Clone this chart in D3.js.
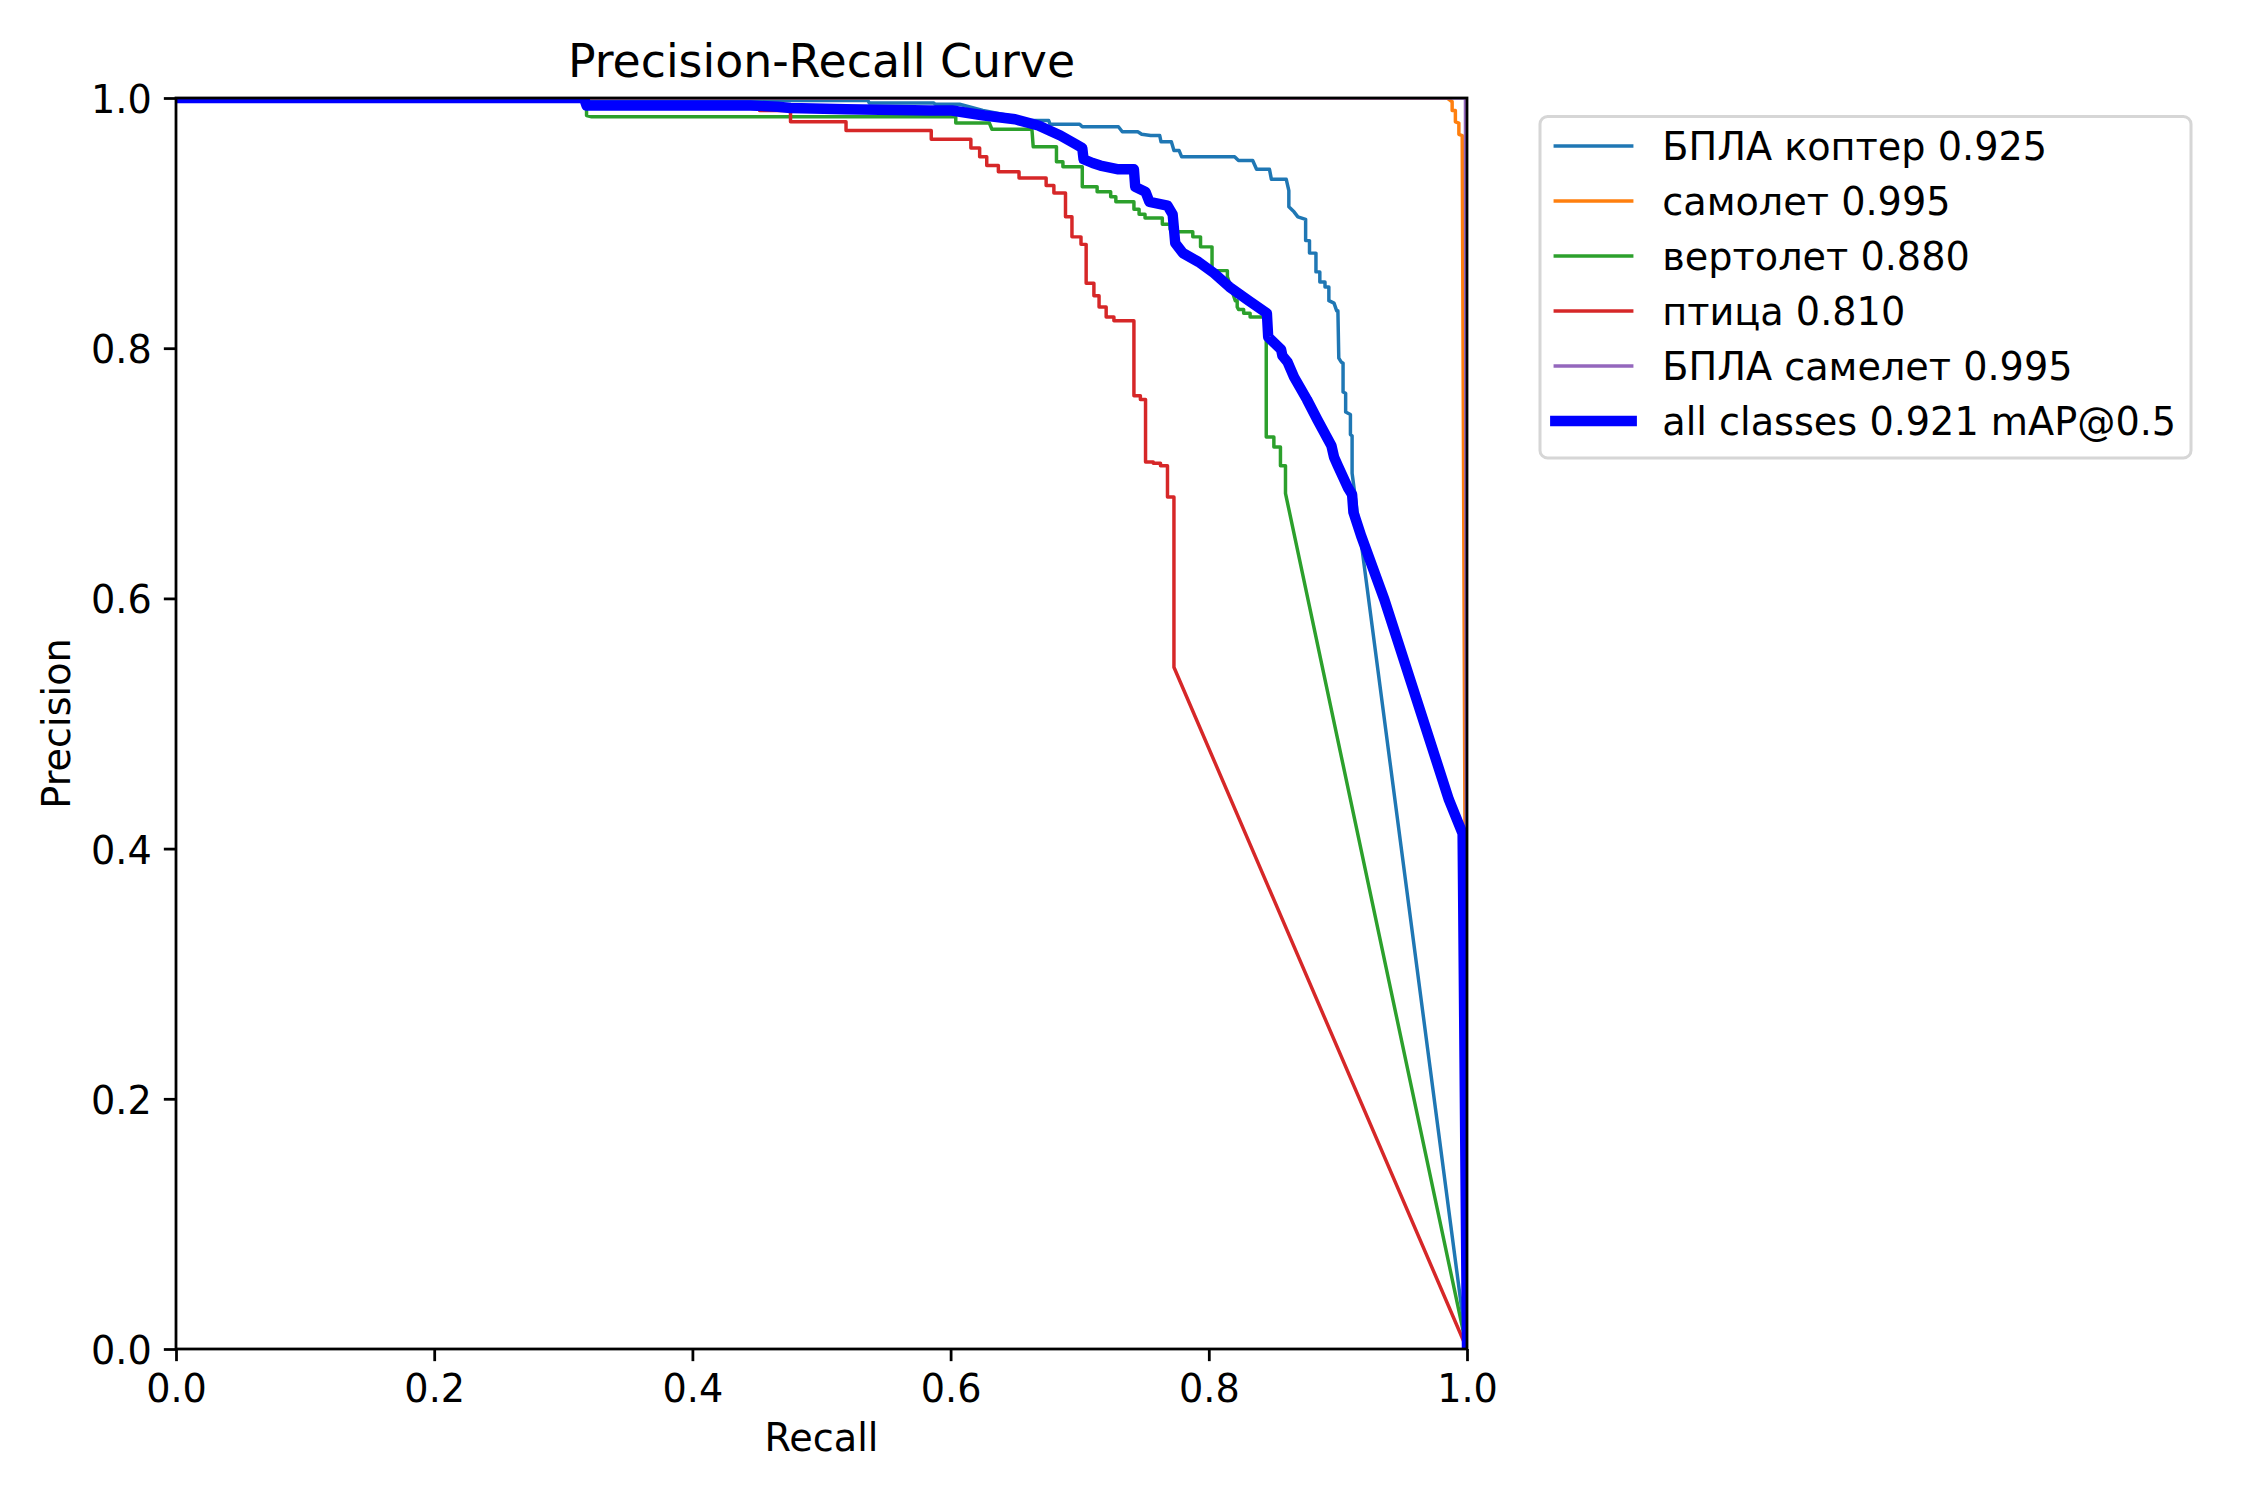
<!DOCTYPE html>
<html>
<head>
<meta charset="utf-8">
<script src="https://cdn.jsdelivr.net/npm/d3@7"></script>
<style>
  html, body { margin: 0; padding: 0; background: #ffffff; }
  svg text { font-family: "DejaVu Sans", sans-serif; fill: #000; }
</style>
</head>
<body>
<svg id="chart" width="2250" height="1500"></svg>
<script>
// ---------------- data ----------------
const categories = ["БПЛА коптер", "самолет", "вертолет", "птица", "БПЛА самелет"];
const apValues = [0.925, 0.995, 0.880, 0.810, 0.995];
const allClassesLabel = "all classes 0.921 mAP@0.5";
const xTickValues = [0, 0.2, 0.4, 0.6, 0.8, 1.0];
const yTickValues = [0, 0.2, 0.4, 0.6, 0.8, 1.0];

// [recall, precision]
const kopterPR = [[0,1],[0.318,1],[0.318,0.998],[0.536,0.998],[0.537,0.996],[0.587,0.996],[0.588,0.995],[0.607,0.995],[0.625,0.990],[0.645,0.986],[0.662,0.982],[0.676,0.982],[0.677,0.979],[0.700,0.979],[0.702,0.977],[0.730,0.977],[0.733,0.973],[0.745,0.973],[0.748,0.971],[0.755,0.970],[0.762,0.970],[0.763,0.965],[0.771,0.965],[0.773,0.958],[0.777,0.958],[0.779,0.953],[0.820,0.953],[0.823,0.950],[0.834,0.950],[0.837,0.943],[0.847,0.943],[0.8485,0.935],[0.860,0.935],[0.862,0.926],[0.862,0.913],[0.866,0.909],[0.869,0.905],[0.875,0.903],[0.875,0.886],[0.878,0.886],[0.878,0.876],[0.883,0.876],[0.883,0.861],[0.886,0.861],[0.886,0.853],[0.890,0.853],[0.890,0.849],[0.893,0.849],[0.893,0.838],[0.897,0.836],[0.899,0.830],[0.900,0.830],[0.9007,0.792],[0.9025,0.789],[0.904,0.788],[0.904,0.765],[0.906,0.764],[0.906,0.749],[0.9097,0.747],[0.9097,0.731],[0.911,0.730],[0.911,0.700],[1,0]];

const samoletPR = [[0,1],[0.9847,1],[0.9885,0.997],[0.9885,0.990],[0.991,0.990],[0.991,0.981],[0.9937,0.980],[0.9937,0.971],[0.9963,0.970],[1,0]];

const vertoletPR = [[0,1],[0.318,1],[0.318,0.986],[0.322,0.985],[0.604,0.985],[0.604,0.980],[0.630,0.980],[0.632,0.975],[0.663,0.975],[0.664,0.961],[0.682,0.961],[0.682,0.949],[0.687,0.949],[0.687,0.945],[0.702,0.945],[0.702,0.929],[0.7135,0.929],[0.7135,0.925],[0.724,0.925],[0.724,0.921],[0.728,0.921],[0.728,0.917],[0.742,0.917],[0.742,0.911],[0.746,0.911],[0.746,0.907],[0.7506,0.907],[0.7506,0.904],[0.764,0.904],[0.764,0.899],[0.770,0.899],[0.770,0.895],[0.777,0.893],[0.7876,0.893],[0.7876,0.889],[0.7936,0.889],[0.7936,0.881],[0.8025,0.881],[0.8025,0.862],[0.8144,0.862],[0.8144,0.857],[0.8205,0.838],[0.822,0.838],[0.822,0.833],[0.823,0.831],[0.827,0.831],[0.827,0.828],[0.832,0.828],[0.832,0.825],[0.8445,0.825],[0.8445,0.729],[0.8504,0.729],[0.8504,0.721],[0.8555,0.721],[0.8555,0.706],[0.8594,0.706],[0.8594,0.684],[1,0]];

const ptitsaPR = [[0,1],[0.318,1],[0.318,0.992],[0.452,0.992],[0.452,0.990],[0.476,0.990],[0.476,0.981],[0.519,0.981],[0.519,0.974],[0.585,0.974],[0.585,0.967],[0.6157,0.967],[0.6157,0.960],[0.6225,0.960],[0.6225,0.953],[0.628,0.953],[0.628,0.946],[0.637,0.946],[0.637,0.941],[0.653,0.941],[0.653,0.936],[0.674,0.936],[0.674,0.930],[0.680,0.930],[0.680,0.924],[0.689,0.924],[0.689,0.905],[0.694,0.905],[0.694,0.889],[0.701,0.889],[0.701,0.883],[0.705,0.883],[0.705,0.852],[0.711,0.852],[0.711,0.842],[0.715,0.842],[0.715,0.833],[0.7205,0.833],[0.7205,0.825],[0.7265,0.825],[0.7265,0.822],[0.742,0.822],[0.742,0.762],[0.747,0.762],[0.747,0.759],[0.751,0.759],[0.751,0.709],[0.757,0.709],[0.757,0.708],[0.7626,0.708],[0.7626,0.706],[0.768,0.706],[0.768,0.681],[0.773,0.681],[0.773,0.545],[1,0]];

const samueletPR = [[0,1],[0.9988,1],[1,0]];

const allClassesPR = [[0,1],[0.316,1],[0.318,0.994],[0.445,0.994],[0.466,0.993],[0.476,0.992],[0.519,0.991],[0.584,0.990],[0.601,0.990],[0.626,0.986],[0.650,0.983],[0.668,0.978],[0.685,0.970],[0.697,0.963],[0.702,0.960],[0.703,0.951],[0.710,0.948],[0.716,0.946],[0.730,0.943],[0.742,0.943],[0.743,0.929],[0.751,0.925],[0.754,0.917],[0.768,0.914],[0.772,0.907],[0.774,0.884],[0.780,0.876],[0.792,0.869],[0.804,0.860],[0.816,0.849],[0.831,0.838],[0.845,0.828],[0.846,0.809],[0.852,0.803],[0.856,0.799],[0.857,0.794],[0.861,0.789],[0.866,0.777],[0.876,0.759],[0.884,0.743],[0.895,0.722],[0.897,0.713],[0.900,0.706],[0.908,0.688],[0.911,0.683],[0.912,0.669],[0.918,0.650],[0.936,0.599],[0.986,0.439],[0.9966,0.412],[1,0]];

const classSeries = [kopterPR, samoletPR, vertoletPR, ptitsaPR, samueletPR];

// ---------------- style ----------------
const classColors = ["#1f77b4", "#ff7f0e", "#2ca02c", "#d62728", "#9467bd"];
const allColor = "#0000ff";
const fontPx = 38.2, titlePx = 45.8;
const thinW = 3.47, thickW = 10.42, spineW = 2.78, tickLen = 12.15, tickPad = 12.15;

const L = 176, R = 1467, T = 98, B = 1349;

const svg = d3.select("#chart");
svg.append("rect").attr("width", 2250).attr("height", 1500).attr("fill", "#fff");

const x = d3.scaleLinear().domain([0, 1]).range([L, R]);
const y = d3.scaleLinear().domain([0, 1]).range([B, T]);

svg.append("defs").append("clipPath").attr("id", "axclip")
  .append("rect").attr("x", L).attr("y", T).attr("width", R - L).attr("height", B - T);

const line = d3.line().x(d => x(d[0])).y(d => y(d[1]));

const plot = svg.append("g").attr("clip-path", "url(#axclip)");
classSeries.forEach((s, i) => {
  plot.append("path").datum(s).attr("d", line)
    .attr("fill", "none").attr("stroke", classColors[i]).attr("stroke-width", thinW)
    .attr("stroke-linejoin", "round").attr("stroke-linecap", "square");
});
plot.append("path").datum(allClassesPR).attr("d", line)
  .attr("fill", "none").attr("stroke", allColor).attr("stroke-width", thickW)
  .attr("stroke-linejoin", "round").attr("stroke-linecap", "square");

// axes
const xAxis = d3.axisBottom(x).tickValues(xTickValues).tickFormat(d3.format(".1f"))
  .tickSizeInner(tickLen).tickSizeOuter(0).tickPadding(tickPad);
const yAxis = d3.axisLeft(y).tickValues(yTickValues).tickFormat(d3.format(".1f"))
  .tickSizeInner(tickLen).tickSizeOuter(0).tickPadding(tickPad);

const gx = svg.append("g").attr("transform", `translate(0,${B})`).call(xAxis);
const gy = svg.append("g").attr("transform", `translate(${L},0)`).call(yAxis);
[gx, gy].forEach(g => {
  g.select(".domain").remove();
  g.selectAll(".tick line").attr("stroke", "#000").attr("stroke-width", spineW);
  g.selectAll(".tick text").attr("font-size", fontPx).attr("font-family", "DejaVu Sans").attr("fill", "#000");
});
gx.selectAll(".tick text").attr("dy", "0.76em");
gy.selectAll(".tick text").attr("dy", "0.38em");

// spines
svg.append("rect").attr("x", L).attr("y", T).attr("width", R - L).attr("height", B - T)
  .attr("fill", "none").attr("stroke", "#000").attr("stroke-width", spineW);

// labels
svg.append("text").attr("x", (L + R) / 2).attr("y", 77).attr("text-anchor", "middle")
  .attr("font-size", titlePx).text("Precision-Recall Curve");
svg.append("text").attr("x", (L + R) / 2).attr("y", 1451).attr("text-anchor", "middle")
  .attr("font-size", fontPx).text("Recall");
svg.append("text").attr("transform", `translate(70,${(T + B) / 2}) rotate(-90)`).attr("text-anchor", "middle")
  .attr("font-size", fontPx).text("Precision");

// legend
const legX = 1540, legY = 116.5, legW = 651, legH = 341.5;
const leg = svg.append("g");
leg.append("rect").attr("x", legX).attr("y", legY).attr("width", legW).attr("height", legH)
  .attr("rx", 7.6).attr("ry", 7.6).attr("fill", "rgba(255,255,255,0.8)")
  .attr("stroke", "#d6d6d6").attr("stroke-width", 3);
const legendItems = categories.map((c, i) => ({ label: `${c} ${apValues[i].toFixed(3)}`, color: classColors[i], w: thinW }))
  .concat([{ label: allClassesLabel, color: allColor, w: thickW }]);
const rowH = 55.0, row0 = 146;
legendItems.forEach((it, i) => {
  const cy = row0 + i * rowH;
  leg.append("line").attr("x1", 1555.3).attr("x2", 1631.7).attr("y1", cy).attr("y2", cy)
    .attr("stroke", it.color).attr("stroke-width", it.w).attr("stroke-linecap", "square");
  leg.append("text").attr("x", 1662.3).attr("y", cy + 13.7).attr("font-size", fontPx).text(it.label);
});
</script>
</body>
</html>
